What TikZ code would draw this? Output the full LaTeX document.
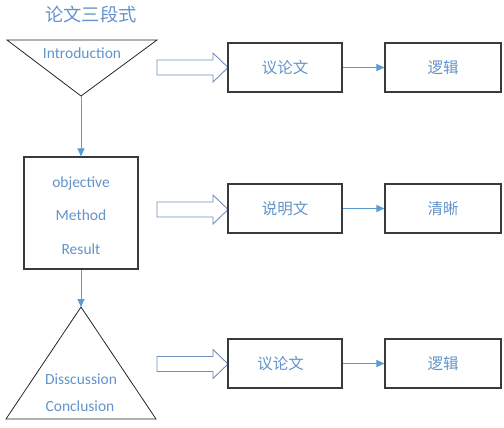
\documentclass[tikz,border=0pt]{standalone}
\usepackage{fontspec}
\setmainfont{Carlito}
\newfontfamily\cjk{Noto Sans CJK SC}
\usetikzlibrary{arrows.meta}
\definecolor{txtblue}{RGB}{98,148,202}
\definecolor{lineblue}{RGB}{91,155,213}
\definecolor{outblue}{RGB}{112,142,186}
\definecolor{boxgray}{RGB}{58,58,58}
\tikzset{
  txt/.style={text=txtblue, font=\fontsize{15.5}{18}\selectfont, inner sep=0pt},
  cjktxt/.style={text=txtblue, font=\cjk\fontsize{15.5}{18}\selectfont, inner sep=0pt},
  rbox/.style={draw=boxgray, line width=1.1pt, fill=white},
  tri/.style={draw=black!85, line width=0.8pt},
  conn/.style={draw=lineblue, line width=1pt, -{Triangle[length=8pt,width=7pt]}},
  blockarrow/.pic={
    \draw[outblue, line width=0.9pt, fill=white]
      (0,-7.5) -- (56,-7.5) -- (56,-14.5) -- (71,0) -- (56,14.5) -- (56,7.5) -- (0,7.5) -- cycle;
  }
}
\begin{document}
\begin{tikzpicture}[x=1pt,y=-1pt]
\useasboundingbox (0,0) rectangle (504,428);
% title
\node[text=txtblue, font=\cjk\fontsize{18.3}{20}\selectfont, inner sep=0pt] (title) at (91,15) {论文三段式};
% top inverted triangle
\coordinate (t1l) at (7,40);
\coordinate (t1r) at (157,40);
\coordinate (t1a) at (81,96);
\draw[tri] (t1l) -- (t1r) -- (t1a) -- cycle;
\node[txt] (intro) at (82,53) {Introduction};
% middle box
\node[rbox, minimum width=114pt, minimum height=112pt, inner sep=0pt] (mid) at (81,213) {};
\node[txt] (obj) at (81,183) {objective};
\node[txt] (meth) at (81,215) {Method};
\node[txt] (res) at (81,249) {Result};
% bottom triangle
\coordinate (t2a) at (81,307);
\coordinate (t2l) at (6,419);
\coordinate (t2r) at (156,419);
\draw[tri] (t2a) -- (t2r) -- (t2l) -- cycle;
\node[txt] (disc) at (81,379) {Disscussion};
\node[txt] (conc) at (80,406) {Conclusion};
% vertical connectors
\draw[conn] (t1a) -- (mid.north);
\draw[conn] (mid.south) -- (t2a);
% block arrows
\pic at (157,67.5) {blockarrow};
\pic at (157,209.5) {blockarrow};
\pic at (157,364) {blockarrow};
% right boxes
\node[rbox, minimum width=114pt, minimum height=49pt, inner sep=0pt] (a1) at (285,67.5) {};
\node[cjktxt] at (a1) {议论文};
\node[rbox, minimum width=116pt, minimum height=49pt, inner sep=0pt] (b1) at (443,67.5) {};
\node[cjktxt] at (b1) {逻辑};
\node[rbox, minimum width=114pt, minimum height=49pt, inner sep=0pt] (a2) at (285,208.5) {};
\node[cjktxt] at (a2) {说明文};
\node[rbox, minimum width=116pt, minimum height=49pt, inner sep=0pt] (b2) at (443,208.5) {};
\node[cjktxt] at (b2) {清晰};
\node[rbox, minimum width=114pt, minimum height=49pt, inner sep=0pt] (a3) at (285,363.5) {};
\node[cjktxt] at ([xshift=-4.5pt]a3.center) {议论文};
\node[rbox, minimum width=116pt, minimum height=49pt, inner sep=0pt] (b3) at (443,363.5) {};
\node[cjktxt] at (b3) {逻辑};
% horizontal connectors
\draw[conn] (a1) -- (b1);
\draw[conn] (a2) -- (b2);
\draw[conn] (a3) -- (b3);
\end{tikzpicture}
\end{document}
